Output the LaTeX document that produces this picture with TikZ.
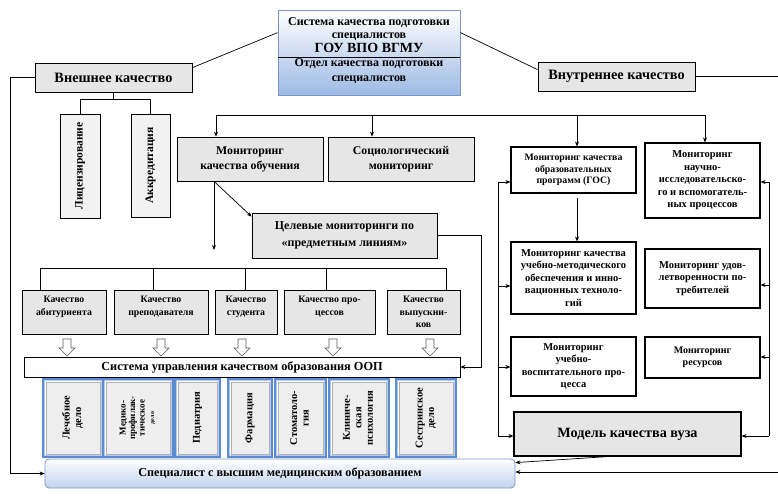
\documentclass[tikz,border=0pt]{standalone}
\usepackage{fontspec}
\usepackage{graphicx}
\setmainfont{Liberation Serif}
\usetikzlibrary{arrows.meta,calc}
\definecolor{boxgray}{HTML}{E6E6E6}
\definecolor{lightgray2}{HTML}{F2F2F2}
\definecolor{topblue}{HTML}{9DBAE4}
\definecolor{frameblue}{HTML}{7B96C6}
\definecolor{progblue}{HTML}{5B8BD4}
\definecolor{progfill}{HTML}{EEEEEE}
\definecolor{specblue}{HTML}{BFD2EC}
\newcommand\fsz[2]{\fontsize{#1}{#2}\selectfont}
\newcommand\rt[1]{\rotatebox{90}{\begin{tabular}{@{}c@{}}#1\end{tabular}}}
\begin{document}
\begin{tikzpicture}[x=1pt,y=-1pt,font=\bfseries,
  base/.style={draw=black, line width=0.7pt, inner sep=1pt, align=center},
  grayb/.style={base, fill=boxgray},
  lgray/.style={base, fill=lightgray2},
  whiteb/.style={base, fill=white, line width=1.1pt},
  prog/.style={draw=progblue, line width=4pt, fill=progfill, inner sep=0pt},
  ln/.style={line width=0.7pt},
  arr/.style={ln, -{Stealth[length=5pt,width=4pt]}},
  harr/.style={draw=gray!70!black, fill=white, line width=0.6pt},
]
\useasboundingbox (0,0) rectangle (778,496);

% top box
\node[draw=frameblue, line width=0.8pt, top color=white, bottom color=topblue,
  minimum width=182pt, minimum height=85pt, inner sep=0pt] (top) at (369,52.5) {};
\draw[ln] (top.west |- 0,57) -- (top.east |- 0,57);
\node[align=center, font=\bfseries\fsz{12}{13.5}] (toptxt) at (369,35)
  {Система качества подготовки\\специалистов\\{\fsz{14}{13.5}ГОУ ВПО ВГМУ}};
\node[align=center, font=\bfseries\fsz{12}{14.5}] (topdep) at (369,71)
  {Отдел качества подготовки\\специалистов};

% external / internal
\node[grayb, minimum width=157pt, minimum height=29pt, font=\bfseries\fsz{14.3}{16}] (vnesh) at (113.5,77.5) {Внешнее качество};
\node[grayb, minimum width=157pt, minimum height=29pt, font=\bfseries\fsz{14.3}{16}] (vnutr) at (616.5,76.5) {Внутреннее качество};

\node[lgray, minimum width=40pt, minimum height=104pt, font=\bfseries\fsz{11.5}{13}] (lic) at (80,166) {\rt{Лицензирование}};
\node[lgray, minimum width=39pt, minimum height=103pt, font=\bfseries\fsz{11.5}{13}] (akk) at (150.5,165.5) {\rt{Аккредитация}};

\node[grayb, minimum width=146pt, minimum height=44pt, font=\bfseries\fsz{11.8}{15}] (mko) at (250,159) {Мониторинг\\качества обучения};
\node[grayb, minimum width=146pt, minimum height=44pt, font=\bfseries\fsz{11.8}{15}] (soc) at (401,159) {Социологический\\мониторинг};
\node[grayb, minimum width=185pt, minimum height=45pt, font=\bfseries\fsz{12}{17}] (cel) at (344.5,235.5) {Целевые мониторинги по\\«предметным линиям»};

% quality boxes
\tikzset{qb/.style={grayb, minimum height=44pt, font=\bfseries\fsz{9.8}{12.5}}}
\node[qb, minimum width=84pt] (q1) at (64,312) {Качество\\абитуриента\\~};
\node[qb, minimum width=94pt] (q2) at (161,312) {Качество\\преподавателя\\~};
\node[qb, minimum width=62pt] (q3) at (246,312) {Качество\\студента\\~};
\node[qb, minimum width=91pt] (q4) at (329.5,312) {Качество про-\\цессов\\~};
\node[qb, minimum width=73pt] (q5) at (423.5,312) {Качество\\выпускни-\\ков};

\node[base, fill=white, minimum width=436pt, minimum height=20pt, font=\bfseries\fsz{12.3}{13}] (sist) at (242,367) {Система управления качеством образования ООП};

% programmes
\tikzset{pt/.style={font=\bfseries\fsz{10.5}{11.5}}}
\node[prog, pt, minimum width=58pt, minimum height=76pt] (p1) at (73,418) {\rt{Лечебное\\дело}};
\node[prog, pt, minimum width=68pt, minimum height=76pt, font=\bfseries\fsz{9}{9.5}] (p2) at (138,418) {\rt{Медико-\\профилак-\\тическое\\{\fsz{6}{7}дело}}};
\node[prog, pt, minimum width=43pt, minimum height=76pt] (p3) at (197.5,418) {\rt{Педиатрия}};
\node[prog, pt, minimum width=42pt, minimum height=76pt] (p4) at (250,418) {\rt{Фармация}};
\node[prog, pt, minimum width=49pt, minimum height=76pt] (p5) at (300.5,418) {\rt{Стоматоло-\\гия}};
\node[prog, pt, minimum width=58pt, minimum height=76pt] (p6) at (359,418) {\rt{Клиниче-\\ская\\психология}};
\node[prog, pt, minimum width=58pt, minimum height=76pt] (p7) at (426,418) {\rt{Сестринское\\дело}};
\foreach \n in {p1,p2,p3,p4,p5,p6,p7}{
  \draw[progblue!45, line width=0.8pt] ([xshift=2.4pt,yshift=-2.4pt]\n.north west) rectangle ([xshift=-2.4pt,yshift=2.4pt]\n.south east);
  \draw[white, line width=0.8pt] ([xshift=3.2pt,yshift=-3.2pt]\n.north west) rectangle ([xshift=-3.2pt,yshift=3.2pt]\n.south east);
  \draw[gray!60, line width=0.4pt] ([xshift=3.8pt,yshift=-3.8pt]\n.north west) rectangle ([xshift=-3.8pt,yshift=3.8pt]\n.south east);
}

\node[draw=frameblue, line width=0.8pt, rounded corners=4pt, top color=white, bottom color=specblue,
  minimum width=470pt, minimum height=29pt, font=\bfseries\fsz{12.2}{13}] (spec) at (280,473.5) {Специалист с высшим медицинским образованием};

% right column
\tikzset{rb/.style={whiteb, font=\bfseries\fsz{10.5}{12.5}}}
\node[rb, minimum width=125pt, minimum height=46pt, font=\bfseries\fsz{9.8}{11.5}] (r1) at (573.5,170) {Мониторинг качества\\образовательных\\программ (ГОС)};
\node[rb, minimum width=115pt, minimum height=75pt] (r2) at (702.5,180.5) {Мониторинг\\научно-\\исследовательско-\\го и вспомогатель-\\ных процессов};
\node[rb, minimum width=125pt, minimum height=72pt] (r3) at (573.5,278) {Мониторинг качества\\учебно-методического\\обеспечения и инно-\\вационных техноло-\\гий};
\node[rb, minimum width=115pt, minimum height=59pt] (r4) at (702.5,278.5) {Мониторинг удов-\\летворенности по-\\требителей};
\node[rb, minimum width=125pt, minimum height=59pt] (r5) at (573.5,366.5) {Мониторинг\\учебно-\\воспитательного про-\\цесса};
\node[rb, minimum width=115pt, minimum height=41pt, font=\bfseries\fsz{10}{12}] (r6) at (702.5,357.5) {Мониторинг\\ресурсов};
\node[grayb, line width=1.1pt, minimum width=227pt, minimum height=44pt, font=\bfseries\fsz{14.2}{16}] (model) at (627.5,434) {Модель качества вуза};

% connectors top
\draw[ln] ([yshift=-23pt]top.north west) -- ([yshift=-5pt]vnesh.north east);
\draw[ln] ([yshift=-23pt]top.north east) -- ([yshift=-8pt]vnutr.north west);
\draw[ln] (vnutr.east) -- (778,0 |- vnutr.east);
\draw[arr] (vnesh.west) -- (10,0 |- vnesh.west) |- (spec.west);
\draw[ln] (vnesh.south) -- (113.5,99);
\draw[ln] (lic.north |- 0,99) -- (akk.north |- 0,99);
\draw[ln] (lic.north |- 0,99) -- (lic.north);
\draw[ln] (akk.north |- 0,99) -- (akk.north);

% line y=115
\draw[ln] (216,115) -- (705,115);
\draw[arr] (216,115) -- (216,0 |- mko.north);
\draw[arr] (372,115) -- (372,0 |- soc.north);
\draw[arr] (577,115) -- (577,0 |- r1.north);
\draw[arr] (705,115) -- (705,0 |- r2.north);

% from mko
\coordinate (mkob) at (214,0 |- mko.south);
\coordinate (mkoend) at (214,250);
\draw[arr] (mkob) -- ([yshift=-4pt]cel.north west);
\draw[arr] (mkob) -- (mkoend);
\draw[arr] (cel.east) -| ($(sist.east)+(21,0)$) -- (sist.east);

% quality line
\draw[ln] (40,268) -- (446,268);
\foreach \x/\n in {40/q1,153/q2,245/q3,326/q4,446/q5}
  \draw[ln] (\x,268) -- (\x,0 |- \n.north);

% hollow arrows
\foreach \x in {67,161,242,333,430}
  \draw[harr] (\x-4,339) -- (\x+4,339) -- (\x+4,348) -- (\x+8,348) -- (\x,356) -- (\x-8,348) -- (\x-4,348) -- cycle;

% right column connectors
\coordinate (r1b) at (577,198);
\draw[arr] (r1b) -- (577,0 |- r3.north);
\draw[ln] (498,182) -- (498,436);
\draw[arr] (498,182) -- (498,182 -| r1.west);
\draw[arr] (498,286) -- (498,286 -| r3.west);
\draw[arr] (498,367) -- (498,367 -| r5.west);
\draw[arr] (498,436) -- (498,436 -| model.west);
\draw[ln] (769,182) -- (769,436);
\draw[arr] (769,182) -- (769,182 -| r2.east);
\draw[arr] (769,285) -- (769,285 -| r4.east);
\draw[arr] (769,357) -- (769,357 -| r6.east);
\draw[arr] (769,436) -- (769,436 -| model.east);

% bottom
\draw[arr] (608,0 |- model.south) -- ([yshift=-4pt]spec.north east);
\draw[arr] (778,472) -- (778,472 -| spec.east);
\end{tikzpicture}
\end{document}
